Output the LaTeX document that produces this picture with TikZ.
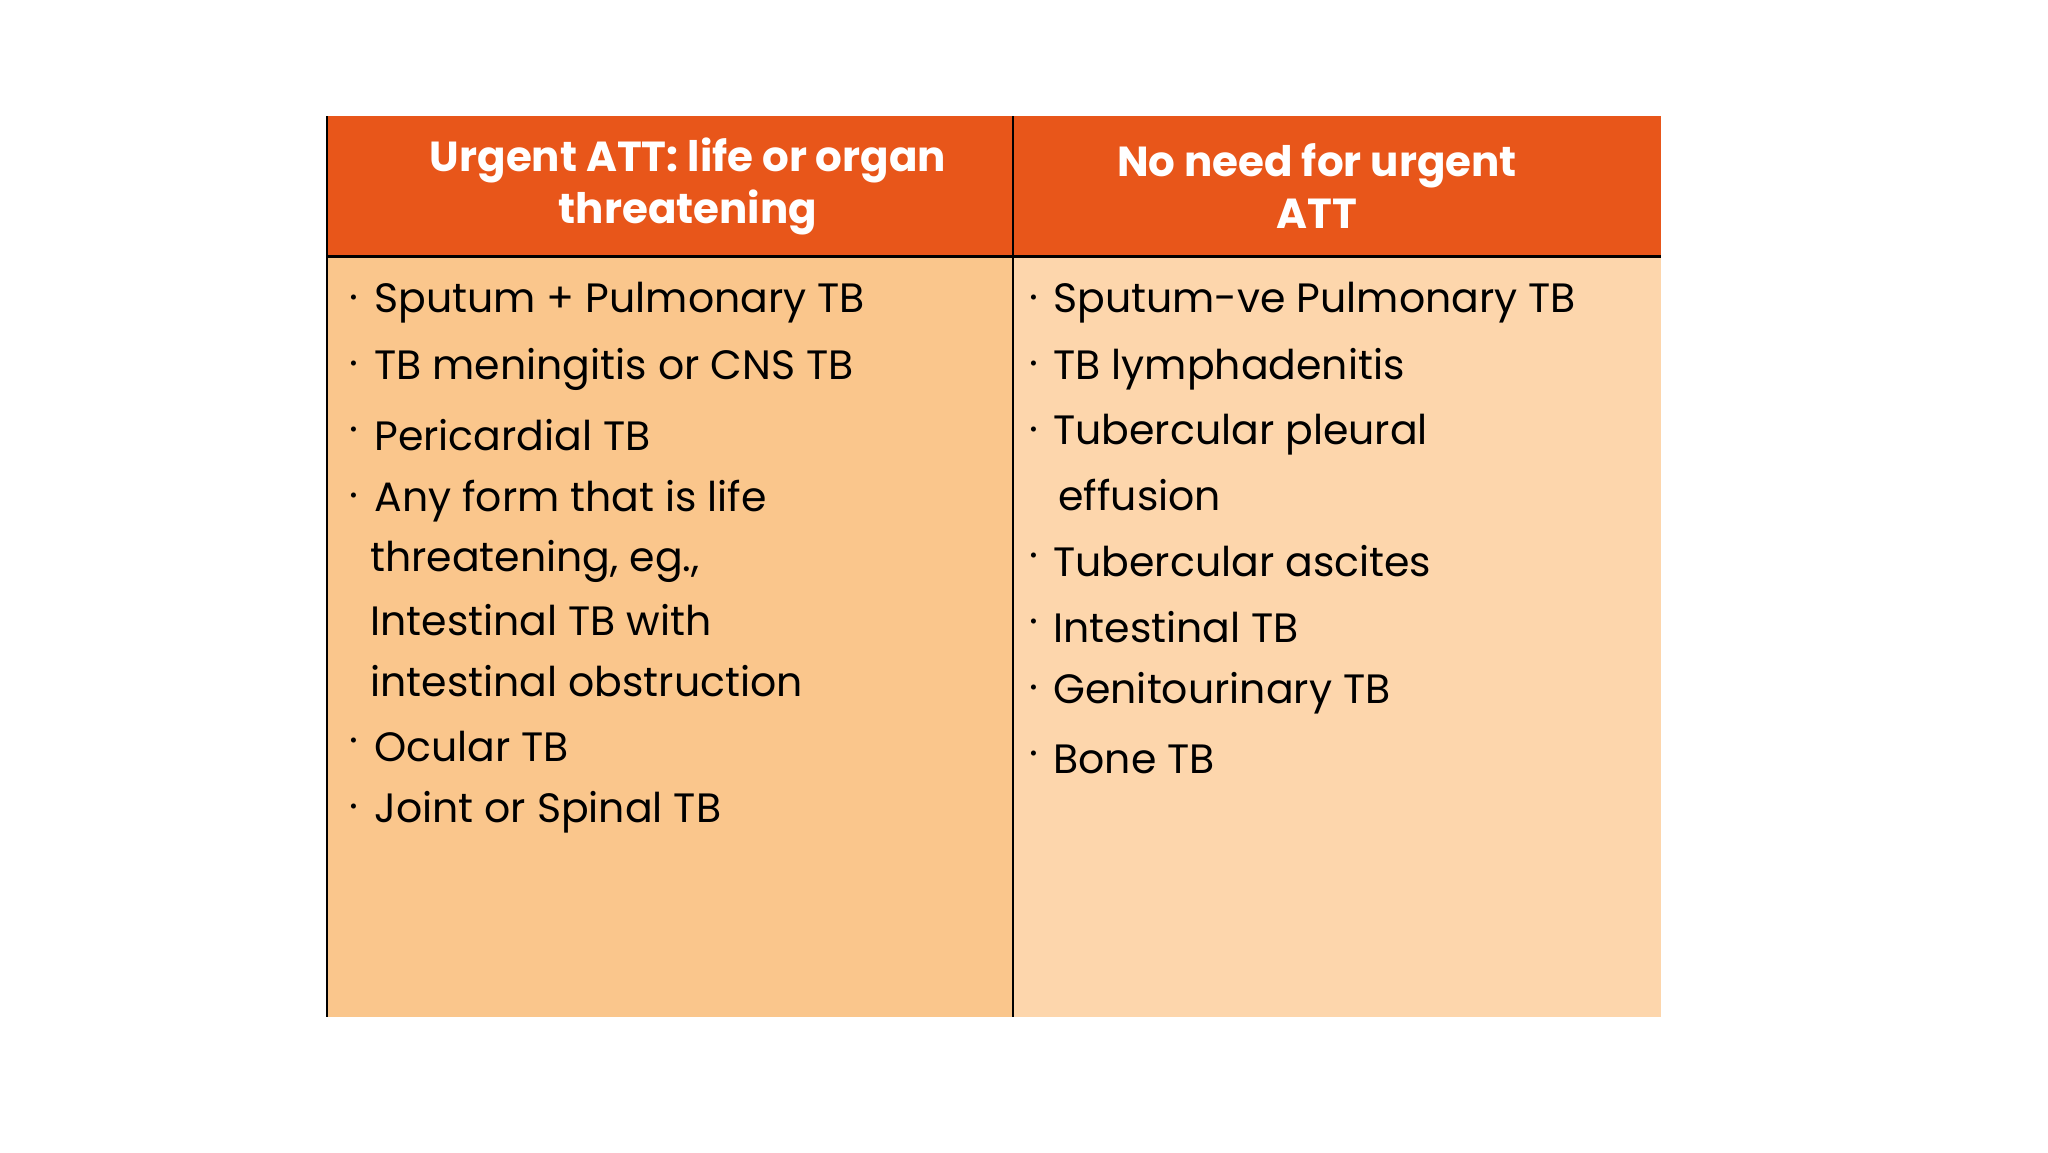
\documentclass[tikz,border=0pt]{standalone}
\usepackage{fontspec}
\setmainfont{Poppins}
\begin{document}
\begin{tikzpicture}[x=0.5pt,y=-0.5pt,
  hd/.style={text=white,font=\fontsize{21}{26}\selectfont\bfseries,align=center},
  it/.style={anchor=west,inner sep=0pt,font=\fontsize{20.5}{24}\selectfont},
  bl/.style={anchor=center,inner sep=0pt,font=\fontsize{20.5}{24}\selectfont}]
\definecolor{hdr}{HTML}{E8561A}
\definecolor{lb}{HTML}{FAC68C}
\definecolor{rb}{HTML}{FDD6AC}
\useasboundingbox (0,0) rectangle (2048,1152);
\fill[white] (0,0) rectangle (2048,1152);
\fill[hdr] (327,116) rectangle (1661,256);
\fill[lb] (327,256) rectangle (1013,1017);
\fill[rb] (1013,256) rectangle (1661,1017);
\draw[line width=1.5pt] (327,256) -- (1661,256);
\draw[line width=1pt] (327,116) -- (327,1017);
\draw[line width=1pt] (1013,116) -- (1013,1017);
\node[hd] (h1) at (688,186) {Urgent ATT: life or organ\\threatening};
\node[hd] (h2) at (1317,186) {No need for urgent\\ATT};
% left column
\foreach \y/\t in {303/{Sputum + Pulmonary TB},369/{TB meningitis or CNS TB},435/{Pericardial TB},501/{Any form that is life},746/{Ocular TB},812/{Joint or Spinal TB}}{
  \node[bl] at (354,\y) {·};
  \node[it] at (374,\y) {\t};
}
\foreach \y/\t in {561/{threatening, eg.,},620/{Intestinal TB with},681/{intestinal obstruction}}{
  \node[it] at (370,\y) {\t};
}
% right column
\foreach \y/\t in {303/{Sputum-ve Pulmonary TB},369/{TB lymphadenitis},435/{Tubercular pleural},561/{Tubercular ascites},627/{Intestinal TB},693/{Genitourinary TB},759/{Bone TB}}{
  \node[bl] at (1034,\y) {·};
  \node[it] at (1053,\y) {\t};
}
\node[it] (e) at (1058,495) {effusion};
\end{tikzpicture}
\end{document}
